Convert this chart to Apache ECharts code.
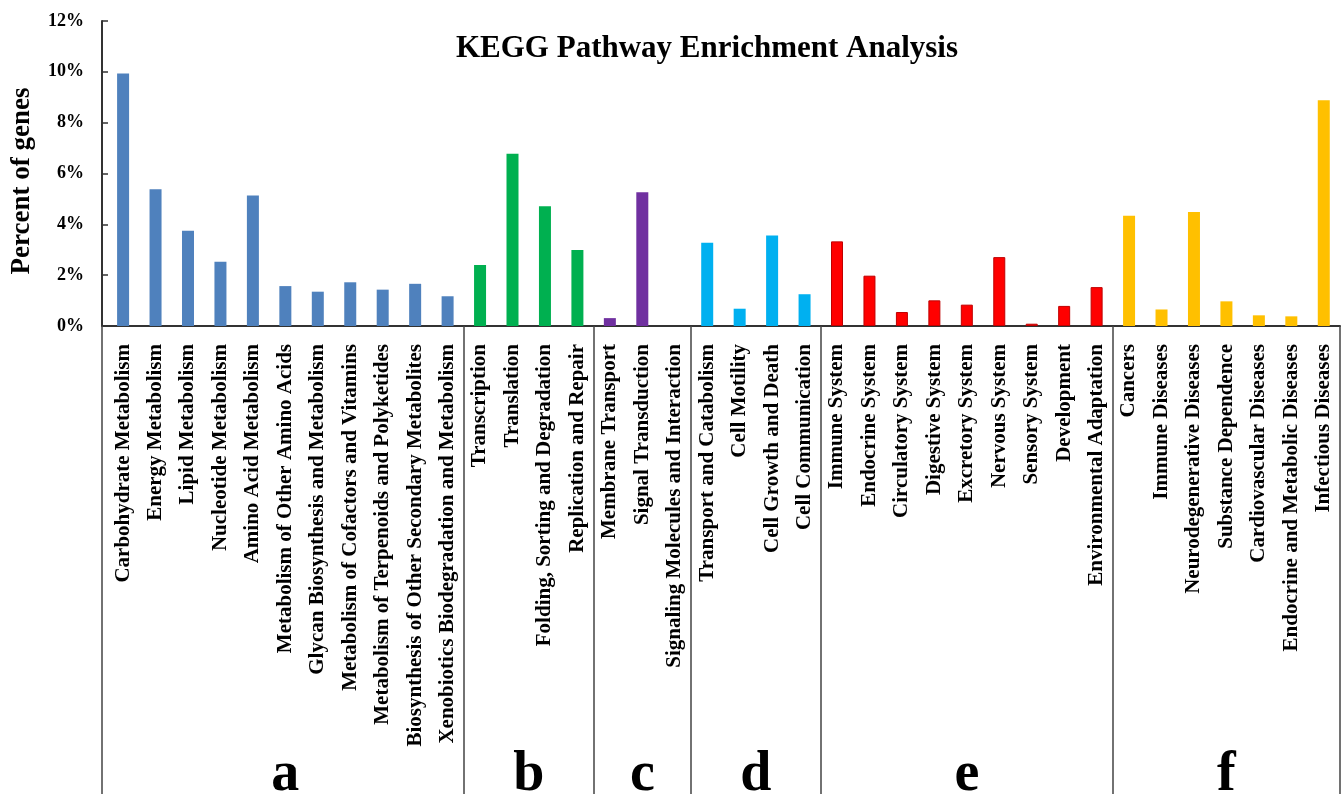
<!DOCTYPE html>
<html>
<head>
<meta charset="utf-8">
<title>KEGG Pathway Enrichment Analysis</title>
<script src="https://cdn.jsdelivr.net/npm/echarts@6/dist/echarts.min.js"></script>
<style>
  html, body { margin: 0; padding: 0; background: #ffffff; }
  #chart { width: 1341px; height: 794px; }
</style>
</head>
<body>
<div id="chart"></div>
<script>
// KEGG pathway categories, in plotting order
const categories = [
  'Carbohydrate Metabolism', 'Energy Metabolism', 'Lipid Metabolism', 'Nucleotide Metabolism',
  'Amino Acid Metabolism', 'Metabolism of Other Amino Acids', 'Glycan Biosynthesis and Metabolism',
  'Metabolism of Cofactors and Vitamins', 'Metabolism of Terpenoids and Polyketides',
  'Biosynthesis of Other Secondary Metabolites', 'Xenobiotics Biodegradation and Metabolism',
  'Transcription', 'Translation', 'Folding, Sorting and Degradation', 'Replication and Repair',
  'Membrane Transport', 'Signal Transduction', 'Signaling Molecules and Interaction',
  'Transport and Catabolism', 'Cell Motility', 'Cell Growth and Death', 'Cell Communication',
  'Immune System', 'Endocrine System', 'Circulatory System', 'Digestive System',
  'Excretory System', 'Nervous System', 'Sensory System', 'Development', 'Environmental Adaptation',
  'Cancers', 'Immune Diseases', 'Neurodegenerative Diseases', 'Substance Dependence',
  'Cardiovascular Diseases', 'Endocrine and Metabolic Diseases', 'Infectious Diseases'
];

// Percent of genes in each pathway category
const percentGenes = [
  9.93, 5.38, 3.75, 2.53, 5.13, 1.57, 1.35, 1.72, 1.43, 1.66, 1.17,
  2.40, 6.78, 4.71, 2.99,
  0.31, 5.26, 0.00,
  3.28, 0.68, 3.56, 1.25,
  3.33, 1.98, 0.55, 1.01, 0.84, 2.71, 0.09, 0.79, 1.53,
  4.34, 0.65, 4.49, 0.97, 0.42, 0.38, 8.88
];

// Top-level groups (a-f), how many categories each holds, and their bar colours
const groupNames = ['a', 'b', 'c', 'd', 'e', 'f'];
const groupSizes = [11, 4, 3, 4, 9, 7];
const groupColors = ['#4F81BD', '#00B050', '#7030A0', '#00B0F0', '#FF0000', '#FFC000'];

// Y axis ticks (percent)
const yMin = 0, yMax = 12, yStep = 2;

// ---- derived structures ----
const groupOf = [];
const groupBounds = [];   // boundaries between groups, in category-index units
const groupMids = [];     // centre of each group, in category-index units
let start = 0;
groupSizes.forEach(function (n, g) {
  for (let k = 0; k < n; k++) groupOf.push(g);
  groupMids.push(start + (n - 1) / 2);
  start += n;
  groupBounds.push(start - 0.5);
});

const xMin = -0.65, xMax = categories.length - 0.5;
const catIndex = categories.map(function (_, i) { return i; });

const serif = '"Liberation Serif", "Times New Roman", serif';

const barData = percentGenes.map(function (v, i) {
  const g = groupOf[i];
  return {
    value: [i, v],
    itemStyle: {
      color: groupColors[g],
      borderColor: g === 4 ? '#C00000' : groupColors[g],
      borderWidth: g === 4 ? 1 : 0
    }
  };
});

const chart = echarts.init(document.getElementById('chart'), null, { renderer: 'canvas' });

chart.setOption({
  backgroundColor: '#ffffff',
  animation: false,
  title: {
    text: 'KEGG Pathway Enrichment Analysis',
    left: 702,
    top: 28,
    textAlign: 'center',
    textStyle: { fontFamily: serif, fontWeight: 'bold', fontSize: 31, color: '#000' }
  },
  grid: {
    left: 102, right: 1, top: 21, bottom: 468,
    containLabel: false,
    outerBoundsMode: 'none'
  },
  xAxis: [
    {
      type: 'value',
      min: xMin,
      max: xMax,
      position: 'bottom',
      splitLine: { show: false },
      axisLine: { show: true, onZero: false, lineStyle: { color: '#333', width: 2 } },
      axisTick: {
        show: true,
        inside: false,
        length: 470,
        customValues: [xMin].concat(groupBounds),
        lineStyle: { color: '#444', width: 1.5 }
      },
      axisLabel: {
        show: true,
        customValues: catIndex,
        rotate: 90,
        margin: 18,
        fontFamily: serif,
        fontWeight: 'bold',
        fontSize: 21,
        color: '#000',
        formatter: function (v) { return categories[Math.round(v)] || ''; }
      }
    },
    {
      type: 'value',
      min: xMin,
      max: xMax,
      position: 'bottom',
      offset: 401,
      splitLine: { show: false },
      axisLine: { show: false, onZero: false },
      axisTick: { show: false },
      axisLabel: {
        show: true,
        customValues: groupMids,
        margin: 21,
        fontFamily: serif,
        fontWeight: 'bold',
        fontSize: 56,
        color: '#000',
        formatter: function (v) {
          const g = groupMids.findIndex(function (m) { return Math.abs(m - v) < 1e-6; });
          return g >= 0 ? groupNames[g] : '';
        }
      }
    }
  ],
  yAxis: {
    type: 'value',
    min: yMin,
    max: yMax,
    interval: yStep,
    name: 'Percent of genes',
    nameLocation: 'middle',
    nameRotate: 90,
    nameGap: 66,
    nameTextStyle: {
      fontFamily: serif, fontWeight: 'bold', fontSize: 27, color: '#000',
      padding: [0, 15, 0, 0]
    },
    splitLine: { show: false },
    axisLine: { show: true, onZero: false, lineStyle: { color: '#333', width: 2 } },
    axisTick: { show: true, inside: true, length: 6, lineStyle: { color: '#333', width: 1.5 } },
    axisLabel: {
      margin: 18,
      fontFamily: serif,
      fontWeight: 'bold',
      fontSize: 18,
      color: '#000',
      formatter: '{value}%'
    }
  },
  series: [
    {
      type: 'bar',
      xAxisIndex: 0,
      yAxisIndex: 0,
      barWidth: 12,
      data: barData
    }
  ]
});
</script>
</body>
</html>
